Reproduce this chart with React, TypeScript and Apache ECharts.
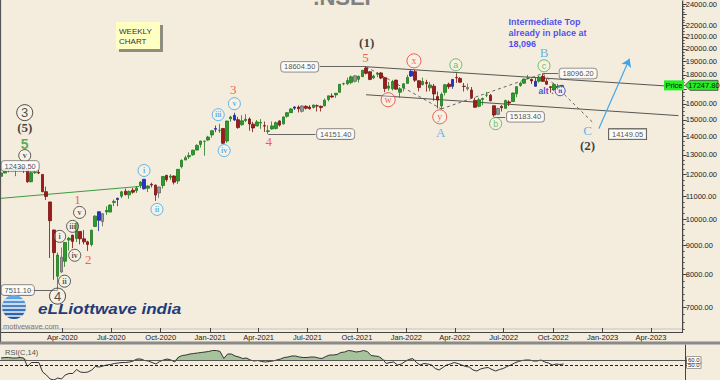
import React, { useEffect, useRef } from 'react';
import * as echarts from 'echarts';

// ---------- DATA ----------
const firstWeek = '2019-12-09';
const opens = [
  11922, 12087, 12272, 12246, 12227, 12257, 12352, 12248, 11662, 12098,
  12113, 12012, 11202, 10742, 9587, 7945, 8584, 8446, 9205, 9390,
  9259, 9533, 9251, 9137, 9039, 9726, 10326, 9919, 10318, 10311,
  10723, 10851, 10999, 11225, 11057, 11270, 11249, 11475, 11777, 11359,
  11540, 11503, 11140, 11487, 11973, 11878, 11937, 11698, 12399, 12739,
  12906, 13012, 13264, 13571, 13741, 13816, 14105, 14474, 14371, 14477,
  13758, 15064, 15271, 15003, 14703, 14956, 15048, 14736, 14628, 14798,
  14644, 14306, 14449, 14481, 14928, 14756, 15211, 15437, 15725, 15791,
  15525, 15839, 15794, 15766, 15877, 15842, 15874, 16287, 16518, 16593,
  16765, 17354, 17363, 17443, 17932, 17680, 17867, 18500, 18230, 17783,
  18040, 18140, 17796, 17052, 17010, 17619, 16773, 17086, 17387, 17913,
  18235, 17575, 17301, 17456, 17076, 17192, 16481, 15867, 16764, 17330,
  17182, 17809, 17740, 17183, 17009, 16924, 16227, 15846, 16290, 16578,
  16570, 15877, 15335, 15837, 15710, 16126, 16151, 16662, 17244, 17401,
  17757, 17682, 17187, 17546, 17890, 17540, 17156, 16968, 17094, 17146,
];
const highs = [
  12098, 12294, 12287, 12294, 12311, 12389, 12430.5, 12258, 12160, 12231,
  12246, 12012, 11433, 10751, 9602, 8749, 8931, 9131, 9324, 9390,
  9890, 9533, 9584, 9178, 9598, 10177, 10328, 10272, 10553, 10631,
  10847, 10933, 11240, 11341, 11257, 11373, 11460, 11686, 11794, 11493,
  11618, 11535, 11428, 11939, 11973, 12025, 11968, 12280, 12770, 12963,
  13145, 13280, 13580, 13772, 13778, 14050, 14367, 14653, 14753, 14491,
  14932, 15243, 15432, 15176, 15273, 15336, 15145, 14879, 14984, 15044,
  14890, 14667, 14890, 14893, 14966, 15189, 15469, 15733, 15835, 15901,
  15915, 15915, 15915, 15952, 15962, 15890, 16350, 16543, 16701, 16722,
  17341, 17436, 17793, 17947, 17947, 17942, 18350, 18604.5, 18242, 18012,
  18210, 18210, 17806, 17490, 17639, 17639, 17118, 17400, 18000, 18350,
  18351, 17599, 17794, 17640, 17490, 17352, 16815, 16757, 17345, 17442,
  17703, 18114, 17842, 17414, 17377, 17132, 16404, 16400, 16415, 16793,
  16661, 15886, 15749, 15927, 16275, 16240, 16752, 17172, 17490, 17724,
  17992, 17726, 17778, 17925, 18096.2, 17723, 17196, 17428, 17348, 17260,
];
const lows = [
  11833, 12067, 12120, 12180, 11929, 12237, 12087, 11614, 11634, 12045,
  12030, 11175, 10827, 8555, 7832, 7511.1, 8055, 8253, 8821, 8909,
  9130, 9045, 9044, 8806, 8968, 9706, 9544, 9728, 10194, 10299,
  10562, 10562, 10910, 11026, 10882, 11112, 11145, 11366, 11303, 11185,
  11394, 10790, 10923, 11348, 11661, 11741, 11535, 11557, 12311, 12730,
  12790, 12963, 13241, 13402, 12962, 13771, 13953, 14264, 14222, 13597,
  13662, 14878, 14935, 14467, 14638, 14862, 14350, 14264, 14615, 14459,
  14273, 14151.4, 14416, 14416, 14591, 14706, 15127, 15430, 15608, 15450,
  15450, 15635, 15632, 15707, 15514, 15513, 15834, 16162, 16395, 16395,
  16764, 17254, 17270, 17326, 17452, 17452, 17864, 18034, 17613, 17697,
  17836, 17688, 16782, 16891, 16891, 16966, 16410, 16833, 17384, 17845,
  17486, 16836, 17244, 16809, 16843, 16203, 15711, 15671, 16556, 17006,
  17006, 17423, 17442, 16824, 16888, 16340, 15735, 15775, 15903, 16444,
  16172, 15183.4, 15306, 15511, 15705, 15858, 16142, 16438, 17154, 17359,
  17710, 17345, 17166, 17444, 17497, 17291, 16747, 16855, 16950, 17098,
];
const closes = [
  12087, 12272, 12246, 12227, 12257, 12352, 12248, 11662, 12098, 12113,
  12080, 11202, 10989, 9955, 8745, 8660, 8084, 9112, 9267, 9154,
  9860, 9251, 9137, 9039, 9580, 10142, 9972, 10244, 10383, 10608,
  10768, 10902, 11194, 11073, 11214, 11178, 11372, 11647, 11333, 11464,
  11505, 11050, 11417, 11914, 11762, 11930, 11642, 12264, 12720, 12859,
  12969, 13258, 13514, 13761, 13749, 13982, 14347, 14433, 14372, 13635,
  14924, 15163, 14982, 14529, 14938, 15031, 14744, 14507, 14867, 14835,
  14617, 14341, 14631, 14823, 14678, 15175, 15436, 15670, 15799, 15683,
  15860, 15722, 15690, 15923, 15856, 15763, 16238, 16529, 16451, 16705,
  17324, 17369, 17585, 17853, 17532, 17895, 18339, 18115, 17672, 17916,
  18102, 17765, 17026, 17197, 17511, 16985, 17004, 17354, 17813, 18256,
  17617, 17102, 17516, 17374, 17276, 16658, 16245, 16630, 17287, 17153,
  17670, 17784, 17476, 17172, 17102, 16411, 15782, 16266, 16352, 16584,
  16202, 15293, 15699, 15752, 16221, 16049, 16719, 17158, 17398, 17698,
  17758, 17559, 17539, 17833, 17531, 17327, 17094, 17315, 17186, 17247.8,
];
const rsi14 = [
  64, 65, 65, 64, 64, 65, 64, 47, 55, 55,
  55, 36, 30, 22, 20, 24, 22, 30, 33, 33,
  41, 36, 35, 36, 40, 47, 46, 48, 50, 51,
  53, 54, 55, 55, 56, 58, 62, 62, 59, 58,
  55, 52, 57, 60, 62, 60, 56, 66, 69, 70,
  72, 73, 74, 75, 76, 77, 79, 79, 77, 63,
  72, 72, 68, 66, 63, 64, 60, 58, 59, 57,
  56, 57, 58, 60, 62, 65, 66, 68, 68, 66,
  65, 65, 66, 66, 64, 63, 67, 70, 70, 71,
  75, 76, 79, 78, 76, 77, 79, 77, 69, 68,
  67, 62, 53, 55, 56, 50, 52, 57, 61, 63,
  55, 50, 53, 52, 50, 43, 40, 45, 50, 52,
  55, 53, 50, 47, 46, 40, 38, 42, 44, 45,
  41, 38, 41, 43, 47, 50, 54, 57, 59, 60,
  60, 58, 58, 60, 56, 54, 50, 52, 51, 52,
];
const blueCandles = [26, 31, 38, 57, 62, 78, 109, 120, 142];
const grayCandles = [16, 27, 42, 80, 94, 124, 132];

const priceTickLabels = [7000, 8000, 9000, 10000, 11000, 12000, 13000, 14000, 15000, 16000, 18000, 19000, 20000, 21000, 22000, 24000];
const priceMajorTicks = [7000, 8000, 9000, 10000, 11000, 12000, 13000, 14000, 15000, 16000, 17000, 18000, 19000, 20000, 21000, 22000, 23000, 24000];
const dateTickLabels = ['2020-04-01', '2020-07-01', '2020-10-01', '2021-01-01', '2021-04-01', '2021-07-01', '2021-10-01', '2022-01-01', '2022-04-01', '2022-07-01', '2022-10-01', '2023-01-01', '2023-04-01'];
const rsiTickLabels = [40, 50, 60, 70];
const rsiLevels = [60, 50];
const rsiFillLevel = 60;

// wave labels: [date, price, text, kind]
const waveLabels: [string, number, string, string][] = [
  ['2020-01-22', 15440, '3', 'cBig'],
  ['2020-01-22', 14530, '(5)', 'sBlack'],
  ['2020-01-22', 13620, '5', 'green5'],
  ['2020-01-22', 12970, 'v', 'cBlack'],
  ['2020-04-29', 10853, '1', 'sRed'],
  ['2020-05-03', 10296, 'v', 'cBlack'],
  ['2020-04-20', 9730, 'iii', 'cBlack'],
  ['2020-03-27', 9343, 'i', 'cBlack'],
  ['2020-04-24', 8652, 'iv', 'cBlack'],
  ['2020-05-19', 8513, '2', 'sRed'],
  ['2020-04-05', 7788, 'ii', 'cBlack'],
  ['2020-03-23', 7330, '4', 'cBig'],
  ['2020-08-31', 12207, 'i', 'cBlue'],
  ['2020-09-24', 10424, 'ii', 'cBlue'],
  ['2021-01-16', 15311, 'iii', 'cBlue'],
  ['2021-01-27', 13236, 'iv', 'cBlue'],
  ['2021-02-15', 16010, 'v', 'cBlue'],
  ['2021-02-13', 16940, '3', 'sRed'],
  ['2021-04-20', 13728, '4', 'sRed'],
  ['2021-10-19', 20494, '(1)', 'sBlack'],
  ['2021-10-17', 19286, '5', 'sRed'],
  ['2021-11-28', 16272, 'w', 'cRed'],
  ['2022-01-15', 19053, 'x', 'cRed'],
  ['2022-03-04', 15180, 'y', 'cRed'],
  ['2022-03-06', 14270, 'A', 'sBlue'],
  ['2022-04-03', 18749, 'a', 'cGreen'],
  ['2022-06-16', 14765, 'b', 'cGreen'],
  ['2022-09-14', 18672, 'c', 'cGreen'],
  ['2022-09-14', 19680, 'B', 'sBlue'],
  ['2022-12-04', 14352, 'C', 'sBlue'],
  ['2022-12-04', 13507, '(2)', 'sBlack'],
  ['2022-10-14', 16877, 'ii', 'cNavy'],
  ['2022-09-18', 16877, 'alt :', 'navyText'],
];
const noteText = ['Intermediate Top', 'already in place at', '18,096'];
const noteAnchor: [string, number] = ['2022-07-11', 22769];

// price boxes: [date, price, text, side, square]
const priceBoxes: [string, number, string, string, boolean][] = [
  ['2019-12-07', 12430.5, '12430.50', 'right', false],
  ['2019-12-07', 7511.1, '7511.10', 'right', false],
  ['2021-07-24', 18604.5, '18604.50', 'left', false],
  ['2021-07-16', 14151.4, '14151.40', 'right', false],
  ['2022-10-10', 18096.2, '18096.20', 'right', false],
  ['2022-07-04', 15183.4, '15183.40', 'right', false],
  ['2023-01-10', 14149.05, '14149.05', 'right', true],
];
const priceLinks: [string, string, number][] = [
  ['2020-01-28', '2020-03-23', 7511.1],
  ['2021-07-24', '2021-10-18', 18604.5],
  ['2021-04-19', '2021-07-16', 14151.4],
  ['2022-09-12', '2022-10-10', 18096.2],
  ['2022-06-13', '2022-07-04', 15183.4],
];
const greenLine: [string, number][] = [['2019-12-07', 10898], ['2020-08-22', 11441]];
const upperChannel: [string, number][] = [['2021-10-18', 18604.5], ['2023-05-22', 17151]];
const lowerChannel: [string, number][] = [['2021-10-18', 16603], ['2023-05-22', 15253]];
const dashedPath: [string, number][] = [['2021-10-18', 18604.5], ['2022-03-07', 15671], ['2022-09-12', 18096.2], ['2022-12-14', 14825]];
const arrowLine: [string, number][] = [['2022-12-25', 14469], ['2023-02-20', 19210]];

// ---------- HELPERS ----------
const DAY = 86400000;
const T = (s: string) => Date.parse(s + 'T00:00:00Z');
const L = (v: number) => Math.log10(v);
const weekTs = opens.map((_, i) => T(firstWeek) + i * 7 * DAY);
const xMin = T('2019-12-07');
const xMax = T('2023-05-30');
const yMin = L(6336);
const yMax = L(24293);
const MONTHS = ['Jan', 'Feb', 'Mar', 'Apr', 'May', 'Jun', 'Jul', 'Aug', 'Sep', 'Oct', 'Nov', 'Dec'];
const SANS = 'Liberation Sans';
const SERIF = 'Liberation Serif';

const minorTicks: number[] = [];
for (let v = 6400; v <= 24200; v += v < 10000 ? 200 : 250) {
  if (v % 1000 !== 0) minorTicks.push(L(v));
}

function styleFor(kind: string, text: string): any {
  const circle = (size: number, color: string, fontSize: number, family: string, weight = 'normal') => ({
    symbol: 'circle',
    symbolSize: size,
    itemStyle: { color: 'rgba(255,255,255,0.35)', borderColor: color, borderWidth: 1 },
    label: { show: true, position: 'inside', formatter: text, color, fontSize, fontFamily: family, fontWeight: weight },
  });
  const plain = (color: string, fontSize: number, family: string, weight = 'normal') => ({
    symbol: 'circle',
    symbolSize: 1,
    itemStyle: { color: 'rgba(0,0,0,0)' },
    label: { show: true, position: 'inside', formatter: text, color, fontSize, fontFamily: family, fontWeight: weight },
  });
  switch (kind) {
    case 'cBig': return circle(16, '#222', 13, SANS);
    case 'cBlack': return circle(12, '#333', 8, SERIF, 'bold');
    case 'cBlue': return circle(12, '#3aa6ee', 8, SERIF, 'bold');
    case 'cRed': return circle(14, '#ec3a2e', 10, SERIF);
    case 'cGreen': return circle(12, '#4cae4c', 9, SANS);
    case 'cNavy': return circle(10, '#2424e0', 7, SERIF, 'bold');
    case 'sBlack': return plain('#111', 13, SERIF, 'bold');
    case 'sRed': return plain('#f03a2c', 13, SERIF);
    case 'sBlue': return plain('#3aa6ee', 13, SERIF);
    case 'green5': return plain('#3a9a3a', 14, SANS, 'bold');
    case 'navyText': return plain('#2424e0', 8.5, SANS, 'bold');
    default: return plain('#111', 10, SANS);
  }
}

function buildOption(): any {
  const candleData = weekTs.map((t, i) => {
    const value = [t, L(opens[i]), L(closes[i]), L(lows[i]), L(highs[i])];
    if (blueCandles.includes(i)) {
      return { value, itemStyle: { color: '#2433cc', color0: '#2433cc', borderColor: '#1a2599', borderColor0: '#1a2599' } };
    }
    if (grayCandles.includes(i)) {
      return { value, itemStyle: { color: '#9a9a9a', color0: '#9a9a9a', borderColor: '#666', borderColor0: '#666' } };
    }
    return value;
  });

  const seg = (a: [string, number], b: [string, number], lineStyle: any) => [
    { coord: [T(a[0]), L(a[1])], lineStyle },
    { coord: [T(b[0]), L(b[1])] },
  ];
  const channelStyle = { color: '#555', width: 1, type: 'solid' };
  const dashStyle = { color: '#666', width: 1, type: [3, 3] };
  const linkStyle = { color: '#666', width: 1, type: 'solid' };
  const markLines: any[] = [
    seg(greenLine[0], greenLine[1], { color: '#3c9c3c', width: 1, type: 'solid' }),
    seg(upperChannel[0], upperChannel[1], channelStyle),
    seg(lowerChannel[0], lowerChannel[1], channelStyle),
  ];
  for (let k = 0; k < dashedPath.length - 1; k++) markLines.push(seg(dashedPath[k], dashedPath[k + 1], dashStyle));
  priceLinks.forEach(([a, b, p]) => markLines.push(seg([a, p], [b, p], linkStyle)));

  const annData: any[] = waveLabels.map(([d, p, text, kind]) => ({ value: [T(d), L(p)], ...styleFor(kind, text) }));
  priceBoxes.forEach(([d, p, text, side, square]) => {
    annData.push({
      value: [T(d), L(p)],
      symbol: 'circle',
      symbolSize: 1,
      itemStyle: { color: 'rgba(0,0,0,0)' },
      label: {
        show: true, position: side, distance: 1, formatter: text, fontSize: 7.5, fontFamily: SANS, color: '#222',
        backgroundColor: '#fff', borderColor: square ? '#222' : '#666', borderWidth: 0.8, borderRadius: square ? 0 : 3,
        padding: [1, 3, 1, 3],
      },
    });
  });
  annData.push({
    value: [T(noteAnchor[0]), L(noteAnchor[1])],
    symbol: 'circle',
    symbolSize: 1,
    itemStyle: { color: 'rgba(0,0,0,0)' },
    label: {
      show: true, position: [0, 0], align: 'left', verticalAlign: 'top', formatter: noteText.join('\n'),
      fontSize: 9, lineHeight: 11, fontWeight: 'bold', fontFamily: SANS, color: '#1f1ff0',
    },
  });

  const rsiPts = weekTs.map((t, i) => [t, rsi14[i]]);
  const rsiFill = weekTs.map((t, i) => [t, Math.max(rsi14[i], rsiFillLevel)]);
  const dateTicks = dateTickLabels.map(T);

  return {
    animation: false,
    backgroundColor: '#f4ecdc',
    textStyle: { fontFamily: SANS },
    grid: [
      { left: 0, right: 33, top: 0, height: 332 },
      { left: 0, right: 35, top: 345, height: 49 },
    ],
    xAxis: [
      {
        type: 'value', gridIndex: 0, min: xMin, max: xMax,
        axisLine: { show: true, lineStyle: { color: '#444', width: 1 } },
        axisTick: { show: true, inside: true, length: 4, customValues: dateTicks, lineStyle: { color: '#444' } },
        axisLabel: {
          customValues: dateTicks, fontSize: 7.5, color: '#222', margin: 1, hideOverlap: false,
          formatter: (v: number) => { const d = new Date(v); return MONTHS[d.getUTCMonth()] + '-' + d.getUTCFullYear(); },
        },
        splitLine: { show: false },
      },
      { type: 'value', gridIndex: 1, min: xMin, max: xMax, show: false, splitLine: { show: false } },
    ],
    yAxis: [
      {
        type: 'value', gridIndex: 0, position: 'right', min: yMin, max: yMax,
        axisLine: { show: true, lineStyle: { color: '#444', width: 1 } },
        axisTick: { show: true, length: 4, customValues: priceMajorTicks.map(L), lineStyle: { color: '#444' } },
        axisLabel: {
          customValues: priceTickLabels.map(L), fontSize: 7.5, color: '#222', margin: 3, hideOverlap: false,
          formatter: (v: number) => Math.pow(10, v).toFixed(2),
        },
        splitLine: { show: false },
      },
      {
        type: 'value', gridIndex: 0, position: 'right', min: yMin, max: yMax,
        axisLine: { show: false },
        axisTick: { show: true, length: 2, customValues: minorTicks, lineStyle: { color: '#555' } },
        axisLabel: { show: false },
        splitLine: { show: false },
      },
      {
        type: 'value', gridIndex: 1, position: 'right', min: 20, max: 90,
        axisLine: { show: true, lineStyle: { color: '#444', width: 1 } },
        axisTick: { show: true, length: 3, customValues: rsiTickLabels, lineStyle: { color: '#444' } },
        axisLabel: {
          customValues: rsiTickLabels, fontSize: 6, lineHeight: 6, color: '#222', margin: 2, hideOverlap: false,
          formatter: (v: number) => (rsiLevels.includes(v) ? '{box|' + v.toFixed(1) + '}' : v.toFixed(1)),
          rich: { box: { fontSize: 6, lineHeight: 6, color: '#222', backgroundColor: '#fff', borderColor: '#555', borderWidth: 0.6, padding: [0, 1, 0, 1] } },
        },
        splitLine: { show: false },
      },
    ],
    series: [
      {
        type: 'candlestick', name: 'NSEI', xAxisIndex: 0, yAxisIndex: 0, barWidth: 3, z: 3,
        encode: { x: 0, y: [1, 2, 3, 4] },
        data: candleData,
        itemStyle: { color: '#2c9a2c', color0: '#9b1c1c', borderColor: '#1e7a1e', borderColor0: '#7a1212', borderWidth: 0.8 },
        markLine: { silent: true, symbol: ['none', 'none'], label: { show: false }, data: markLines, z: 2 },
      },
      {
        type: 'scatter', name: 'labels', xAxisIndex: 0, yAxisIndex: 0, silent: true, z: 6,
        data: annData,
        markLine: {
          silent: true, symbol: ['none', 'arrow'], symbolSize: 8, label: { show: false },
          lineStyle: { color: '#3aa6ee', width: 1.2, type: 'solid' },
          data: [[{ coord: [T(arrowLine[0][0]), L(arrowLine[0][1])] }, { coord: [T(arrowLine[1][0]), L(arrowLine[1][1])] }]],
        },
      },
      {
        type: 'line', name: 'rsiFill', xAxisIndex: 1, yAxisIndex: 2, data: rsiFill,
        symbol: 'none', lineStyle: { opacity: 0, width: 0 }, areaStyle: { color: '#a6c39c', opacity: 1, origin: rsiFillLevel }, silent: true, z: 2,
      },
      {
        type: 'line', name: 'RSI(C,14)', xAxisIndex: 1, yAxisIndex: 2, data: rsiPts,
        symbol: 'none', lineStyle: { color: '#333', width: 1 }, silent: true, z: 4,
        markLine: {
          silent: true, symbol: ['none', 'none'], label: { show: false },
          data: [
            { yAxis: 60, lineStyle: { color: '#555', width: 1, type: 'solid' } },
            { yAxis: 50, lineStyle: { color: '#222', width: 1, type: [3, 2] } },
          ],
        },
      },
    ],
  };
}

function buildGraphics(yp: number): any[] {
  const lastPrice = closes[closes.length - 1];
  const globe: any[] = [
    { type: 'circle', shape: { cx: 14, cy: 307, r: 12 }, style: { fill: new echarts.graphic.LinearGradient(0, 0, 0, 1, [{ offset: 0, color: '#6fb0ea' }, { offset: 1, color: '#1c4f9c' }]) } },
  ];
  [-7, -3, 1, 5, 9].forEach((dy) => {
    const hw = Math.sqrt(144 - dy * dy);
    globe.push({ type: 'line', shape: { x1: 14 - hw, y1: 307 + dy, x2: 14 + hw, y2: 307 + dy }, style: { stroke: '#ffffff', lineWidth: 1.4 } });
  });
  return [
    { type: 'rect', z: 0, shape: { x: 0.5, y: -1, width: 683, height: 330 }, style: { fill: 'none', stroke: '#c9c5bc', lineWidth: 1 }, silent: true },
    { type: 'line', z: 50, shape: { x1: 0.5, y1: 0, x2: 0.5, y2: 343 }, style: { stroke: '#555', lineWidth: 1.2 }, silent: true },
    { type: 'rect', z: 50, shape: { x: 0, y: 341.5, width: 720, height: 3 }, style: { fill: '#8a8a8a' }, silent: true },
    { type: 'text', z: 50, x: 342, y: 8, style: { text: '.NSEI', fontSize: 22, fontWeight: 'bold', fontFamily: SANS, fill: '#808080', align: 'center', verticalAlign: 'bottom' } },
    { type: 'rect', z: 50, shape: { x: 119, y: 25, width: 44, height: 27 }, style: { fill: '#8f8c80' } },
    { type: 'rect', z: 51, shape: { x: 116, y: 22, width: 44, height: 27 }, style: { fill: '#ffffc2' } },
    { type: 'text', z: 52, x: 119, y: 31, style: { text: 'WEEKLY', fontSize: 8, fontFamily: SANS, fill: '#333', verticalAlign: 'middle' } },
    { type: 'text', z: 52, x: 119, y: 41, style: { text: 'CHART', fontSize: 8, fontFamily: SANS, fill: '#333', verticalAlign: 'middle' } },
    ...globe.map((g) => ({ ...g, z: 50, silent: true })),
    { type: 'text', z: 50, x: 38, y: 309, scaleX: 1.22, style: { text: 'eLLiottwave india', fontSize: 14, fontWeight: 'bold', fontStyle: 'italic', fontFamily: SANS, fill: '#1e3d7a', verticalAlign: 'middle' } },
    { type: 'text', z: 50, x: 3, y: 326, style: { text: 'motivewave.com', fontSize: 7.5, fontFamily: SANS, fill: '#777', verticalAlign: 'middle' } },
    { type: 'text', z: 50, x: 5, y: 352, style: { text: 'RSI(C,14)', fontSize: 7.5, fontFamily: SANS, fill: '#555', verticalAlign: 'middle' } },
    { type: 'rect', z: 100, shape: { x: 664, y: yp - 5, width: 20, height: 10 }, style: { fill: '#22ee22' } },
    { type: 'text', z: 101, x: 674, y: yp, style: { text: 'Price', fontSize: 7.5, fontFamily: SANS, fill: '#111', align: 'center', verticalAlign: 'middle' } },
    { type: 'polygon', z: 100, shape: { points: [[685, yp], [690, yp - 5], [718, yp - 5], [718, yp + 5], [690, yp + 5]] }, style: { fill: '#22ee22', stroke: '#444', lineWidth: 0.8 } },
    { type: 'text', z: 101, x: 704, y: yp, style: { text: lastPrice.toFixed(2), fontSize: 7.5, fontFamily: SANS, fill: '#111', align: 'center', verticalAlign: 'middle' } },
  ];
}

export default function App() {
  const ref = useRef<HTMLDivElement>(null);
  useEffect(() => {
    const chart = echarts.init(ref.current!, null, { renderer: 'svg' });
    chart.setOption(buildOption());
    const yp = chart.convertToPixel({ yAxisIndex: 0 }, L(closes[closes.length - 1])) as number;
    chart.setOption({ graphic: buildGraphics(yp) });
    return () => chart.dispose();
  }, []);
  return <div ref={ref} style={{ position: 'fixed', left: 0, top: 0, width: 720, height: 380 }} />;
}
